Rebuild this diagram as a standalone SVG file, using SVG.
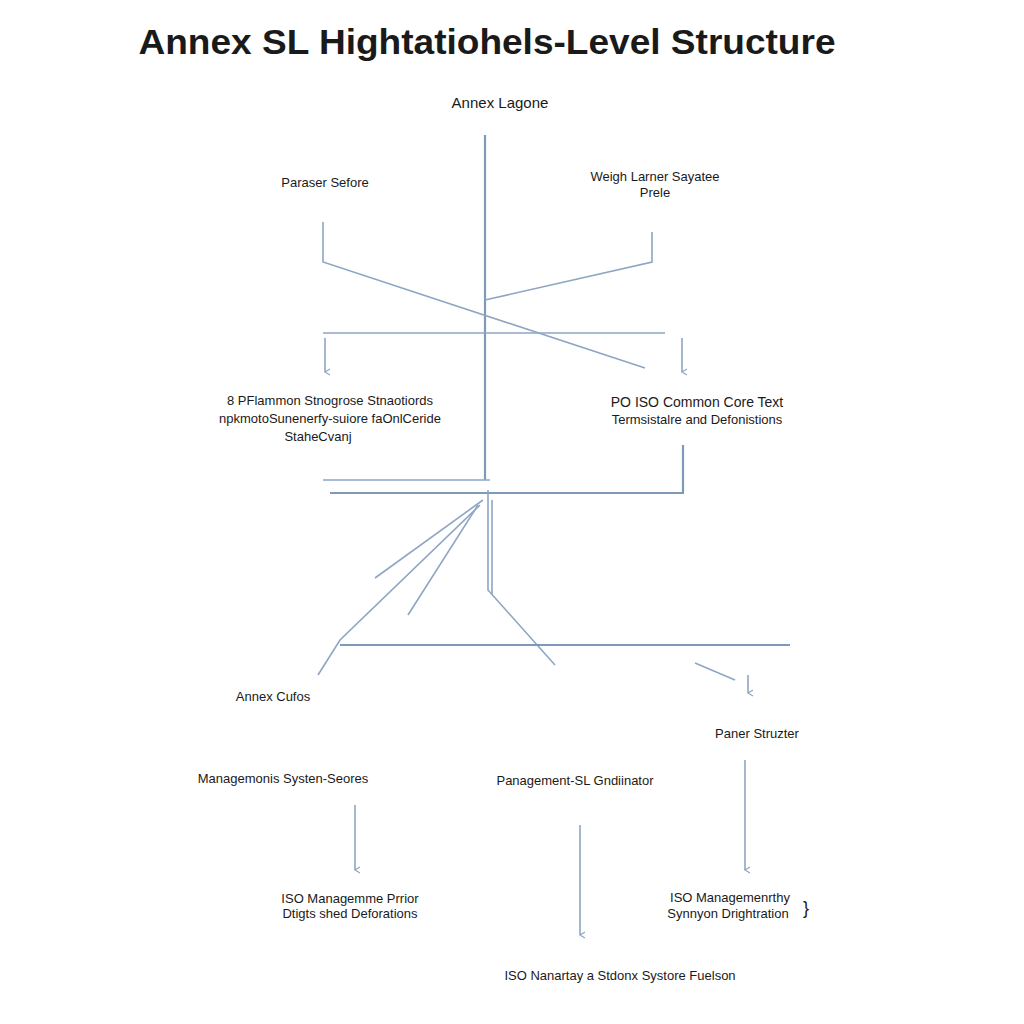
<svg xmlns="http://www.w3.org/2000/svg" width="1024" height="1024" viewBox="0 0 1024 1024">
<style>
.t{font-family:"Liberation Sans",Arial,sans-serif;fill:#1a1a1a;text-anchor:middle}
.s{font-size:13px}
.c{stroke:#8ea6c4;stroke-width:1.6;fill:none}
.m{stroke:#7f99bb;stroke-width:2.2;fill:none}
</style>
<defs>
<marker id="a" markerWidth="8" markerHeight="8" refX="4" refY="6" orient="auto" markerUnits="userSpaceOnUse">
<path d="M1,1 L4,6 L7,1" fill="none" stroke="#8ea6c4" stroke-width="1.2"/>
</marker>
</defs>
<rect width="1024" height="1024" fill="#ffffff"/>
<text class="t" x="487" y="54" font-size="35" font-weight="bold" textLength="697" lengthAdjust="spacingAndGlyphs">Annex SL Hightatiohels-Level Structure</text>
<g id="connectors">
<path class="m" d="M485 135 V480"/>
<path class="c" d="M323 222 V262 L645 368"/>
<path class="c" d="M652 232 V262 L485 300"/>
<path class="c" d="M323 333 H665"/>
<path class="c" d="M325 338 V372" marker-end="url(#a)"/>
<path class="c" d="M682 338 V372" marker-end="url(#a)"/>
<path class="c" d="M323 480 H490"/>
<path class="m" d="M330 493 H683 V445"/>
<path class="c" d="M488 490 V590 L555 665"/>
<path class="c" d="M492 500 V595"/>
<path class="c" d="M483 500 L375 578"/>
<path class="c" d="M478 505 L408 615"/>
<path class="c" d="M480 505 L340 640 L318 675"/>
<path class="m" d="M340 645 H790"/>
<path class="c" d="M695 663 L735 680"/>
<path class="c" d="M748 675 V693" marker-end="url(#a)"/>
<path class="c" d="M355 805 V870" marker-end="url(#a)"/>
<path class="c" d="M580 825 V935" marker-end="url(#a)"/>
<path class="c" d="M745 760 V870" marker-end="url(#a)"/>
</g>
<g id="n1"><text class="t" x="500" y="108" font-size="15">Annex Lagone</text></g>
<g id="n2"><text class="t s" x="325" y="187">Paraser Sefore</text></g>
<g id="n3"><text class="t s" x="655" y="181">Weigh Larner Sayatee</text><text class="t s" x="655" y="197">Prele</text></g>
<g id="n4"><text class="t s" x="330" y="405">8 PFlammon Stnogrose Stnaotiords</text><text class="t s" x="330" y="423">npkmotoSunenerfy-suiore faOnlCeride</text><text class="t s" x="318" y="441">StaheCvanj</text></g>
<g id="n5"><text class="t" x="697" y="407" font-size="14">PO ISO Common Core Text</text><text class="t s" x="697" y="424">Termsistalre and Defonistions</text></g>
<g id="n6"><text class="t s" x="273" y="701">Annex Cufos</text></g>
<g id="n7"><text class="t s" x="757" y="738">Paner Struzter</text></g>
<g id="n8"><text class="t s" x="283" y="783">Managemonis Systen-Seores</text></g>
<g id="n9"><text class="t s" x="575" y="785">Panagement-SL Gndiinator</text></g>
<g id="n10"><text class="t s" x="350" y="903">ISO Managemme Prrior</text><text class="t s" x="350" y="918">Dtigts shed Deforations</text></g>
<g id="n11"><text class="t s" x="730" y="902">ISO Managemenrthy</text><text class="t s" x="728" y="918">Synnyon Drightration</text><text class="t" x="806" y="914" font-size="18">}</text></g>
<g id="n12"><text class="t s" x="620" y="980">ISO Nanartay a Stdonx Systore  Fuelson</text></g>
</svg>
